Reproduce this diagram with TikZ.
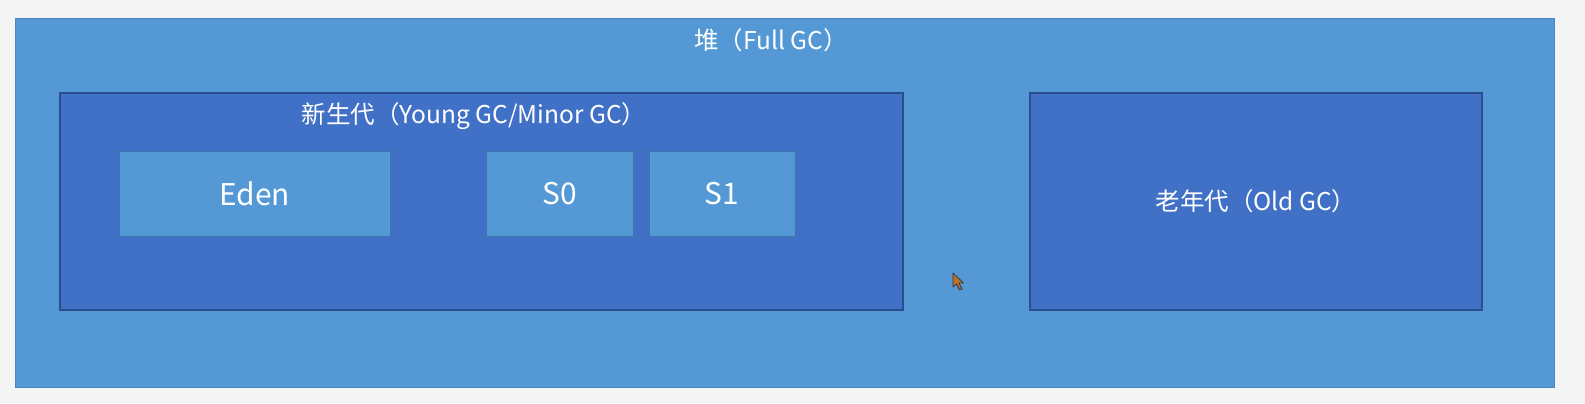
\documentclass[tikz,border=0pt]{standalone}
\usepackage{fontspec}
\setmainfont{Noto Sans CJK SC}
\definecolor{bg}{HTML}{F4F4F4}
\definecolor{heapfill}{HTML}{5499D6}
\definecolor{heapline}{HTML}{4A86C0}
\definecolor{genfill}{HTML}{4171C6}
\definecolor{genline}{HTML}{2A4F8E}
\definecolor{arealine}{HTML}{3F74A8}
\definecolor{cursorfill}{HTML}{B8702C}
\begin{document}
\begin{tikzpicture}[x=1bp,y=-1bp,
  heap/.style={draw=heapline,fill=heapfill,line width=0.8bp},
  gen/.style={draw=genline,fill=genfill,line width=1.2bp},
  area/.style={draw=arealine,fill=heapfill,line width=0.9bp},
  lbl/.style={text=white,font=\fontsize{24.6}{28}\selectfont,inner sep=0pt},
  big/.style={text=white,font=\fontsize{30}{34}\selectfont,inner sep=0pt}]
\fill[bg] (0,0) rectangle (1585,403);
\draw[heap] (15,18) rectangle (1554,387);
\node[lbl] (heapt) at (771,40) {堆（Full GC）};
\draw[gen] (60,93) rectangle (903,310);
\node[lbl] (yt) at (474,116) {新生代（Young GC/Minor GC）};
\draw[area] (119,151) rectangle (390,236);
\node[big] (eden) at (254.5,194) {Eden};
\draw[area] (486,151) rectangle (633,236);
\node[big] (s0) at (559.5,194) {S0};
\draw[area] (649,151) rectangle (795,236);
\node[big] (s1) at (722,194) {S1};
\draw[gen] (1030,93) rectangle (1482,310);
\node[lbl] (old) at (1256,201) {老年代（Old GC）};
% mouse pointer
\draw[fill=cursorfill,draw=black!80,line width=0.7bp,line join=round]
  (953,273) -- (953,287) -- (956.5,284) -- (959.5,290) -- (962,289) -- (959,283) -- (963.5,283) -- cycle;
\pgfresetboundingbox
\path[use as bounding box] (0,0) rectangle (1585,403);
\end{tikzpicture}
\end{document}
